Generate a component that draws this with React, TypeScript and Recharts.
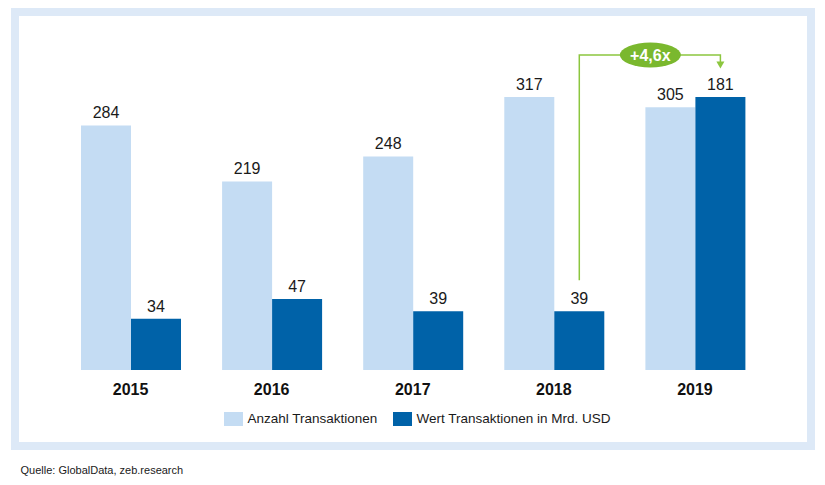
import React from 'react';
import { BarChart, Bar, XAxis, YAxis, LabelList } from 'recharts';

const years = ['2015', '2016', '2017', '2018', '2019'];
const anzahlTransaktionen = [284, 219, 248, 317, 305];
const wertTransaktionen = [34, 47, 39, 39, 181];
const seriesNames = ['Anzahl Transaktionen', 'Wert Transaktionen in Mrd. USD'];
const seriesColors = ['#c4dcf3', '#0062a8'];
const annotationText = '+4,6x';
const annotationFrom = '2018';
const annotationTo = '2019';
const sourceText = 'Quelle: GlobalData, zeb.research';

const data = years.map((y, i) => ({
  year: y,
  anzahl: anzahlTransaktionen[i],
  wert: wertTransaktionen[i],
}));

const FONT = '"Liberation Sans", Arial, sans-serif';
const GREEN_LINE = '#8cc63f';
const GREEN_FILL = '#7ab82e';

const darkPos: Record<number, { cx: number; top: number }> = {};

const ValueLabel = (props: any) => {
  const vb = props.viewBox || props;
  const cx = vb.x + vb.width / 2;
  return (
    <text x={cx} y={vb.y - 7} textAnchor="middle" fontFamily={FONT} fontSize={16} fill="#1a1a1a">
      {props.value}
    </text>
  );
};

const DarkLabel = (props: any) => {
  const vb = props.viewBox || props;
  const cx = vb.x + vb.width / 2;
  const top = vb.y;
  const idx = props.index;
  darkPos[idx] = { cx, top };
  const fromIdx = years.indexOf(annotationFrom);
  const toIdx = years.indexOf(annotationTo);
  let annotation = null;
  if (idx === toIdx && darkPos[fromIdx]) {
    const from = darkPos[fromIdx];
    const lineY = top - 42;
    const tipY = top - 28.5;
    const ex = (from.cx + cx) / 2 + 0.5;
    annotation = (
      <g>
        <polyline
          points={`${from.cx},${from.top - 31} ${from.cx},${lineY} ${cx},${lineY} ${cx},${tipY - 6}`}
          fill="none"
          stroke={GREEN_LINE}
          strokeWidth={1.5}
        />
        <polygon points={`${cx - 4},${tipY - 7} ${cx + 4},${tipY - 7} ${cx},${tipY}`} fill={GREEN_LINE} />
        <ellipse cx={ex} cy={lineY} rx={30.5} ry={12.5} fill={GREEN_FILL} />
        <text
          x={ex}
          y={lineY + 5.5}
          textAnchor="middle"
          fontFamily={FONT}
          fontSize={16}
          fontWeight="bold"
          fill="#ffffff"
        >
          {annotationText}
        </text>
      </g>
    );
  }
  return (
    <g>
      <text x={cx} y={top - 7} textAnchor="middle" fontFamily={FONT} fontSize={16} fill="#1a1a1a">
        {props.value}
      </text>
      {annotation}
    </g>
  );
};

export default function App() {
  return (
    <div style={{ position: 'absolute', left: 0, top: 0, width: 825, height: 485, background: '#ffffff', overflow: 'hidden' }}>
      <div
        style={{
          position: 'absolute',
          left: 10.5,
          top: 7.5,
          width: 804,
          height: 442,
          border: '8px solid #dde9f7',
          boxSizing: 'border-box',
        }}
      />
      <div style={{ position: 'absolute', left: 0, top: 0 }}>
        <BarChart
          width={825}
          height={485}
          data={data}
          margin={{ top: 97, right: 59.5, left: 60, bottom: 85 }}
          barGap={0}
        >
          <XAxis
            dataKey="year"
            axisLine={false}
            tickLine={false}
            height={30}
            tickMargin={8}
            tick={{ fontFamily: FONT, fontSize: 16, fontWeight: 'bold', fill: '#111111' }}
            interval={0}
          />
          <YAxis yAxisId="left" hide domain={[0, 'dataMax']} />
          <YAxis yAxisId="right" orientation="right" hide domain={[0, 'dataMax']} />
          <Bar
            yAxisId="left"
            dataKey="anzahl"
            name={seriesNames[0]}
            fill={seriesColors[0]}
            barSize={50}
            isAnimationActive={false}
          >
            <LabelList dataKey="anzahl" content={ValueLabel} />
          </Bar>
          <Bar
            yAxisId="right"
            dataKey="wert"
            name={seriesNames[1]}
            fill={seriesColors[1]}
            barSize={50}
            isAnimationActive={false}
          >
            <LabelList dataKey="wert" content={DarkLabel} />
          </Bar>
        </BarChart>
      </div>
      {seriesNames.map((n, i) => (
        <div
          key={n}
          style={{
            position: 'absolute',
            left: i === 0 ? 223.5 : 392.5,
            top: 411,
            display: 'flex',
            alignItems: 'center',
            fontFamily: FONT,
            fontSize: 13.5,
            color: '#1a1a1a',
            whiteSpace: 'nowrap',
          }}
        >
          <span style={{ display: 'inline-block', width: 19, height: 14, background: seriesColors[i], marginRight: 5 }} />
          <span>{n}</span>
        </div>
      ))}
      <div
        style={{
          position: 'absolute',
          left: 20.5,
          top: 464,
          fontFamily: FONT,
          fontSize: 11,
          color: '#1a1a1a',
          whiteSpace: 'nowrap',
        }}
      >
        {sourceText}
      </div>
    </div>
  );
}
